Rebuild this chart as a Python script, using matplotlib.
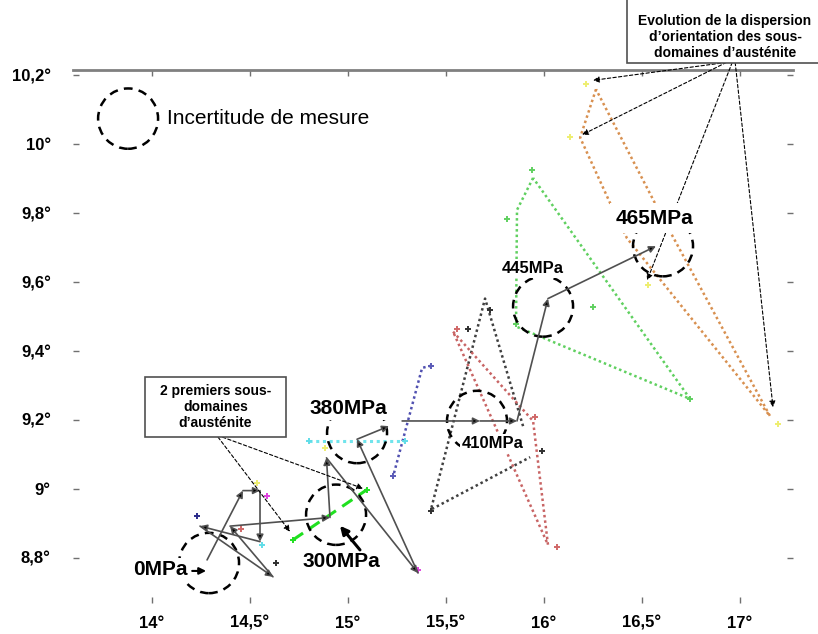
import matplotlib
matplotlib.use("Agg")
import matplotlib.pyplot as plt
from matplotlib.patches import Ellipse, Rectangle

plt.rcParams['font.family'] = ['Liberation Sans', 'DejaVu Sans']

# axes ticks
x_ticks = [14, 14.5, 15, 15.5, 16, 16.5, 17]
x_labels = ['14°', '14,5°', '15°', '15,5°', '16°', '16,5°', '17°']
y_ticks = [8.8, 9.0, 9.2, 9.4, 9.6, 9.8, 10.0, 10.2]
y_labels = ['8,8°', '9°', '9,2°', '9,4°', '9,6°', '9,8°', '10°', '10,2°']

# stress levels: circle centres and labels
stress_labels = ['0MPa', '300MPa', '380MPa', '410MPa', '445MPa', '465MPa']
circle_x = [14.291, 14.939, 15.046, 15.658, 15.995, 16.607]
circle_y = [8.785, 8.925, 9.162, 9.197, 9.529, 9.704]
label_x = [14.043, 14.964, 15.000, 15.740, 15.944, 16.561]
label_y = [8.765, 8.788, 9.234, 9.132, 9.640, 9.785]
label_size = [15, 15, 15, 12, 12, 15]
label_pad = [1.5, 1.5, 1.5, 1.5, 1.5, 4]

# trajectory of mean orientation (arrows)
traj_1 = [(14.281, 8.794), (14.464, 8.995), (14.551, 8.995), (14.551, 8.847),
          (14.245, 8.892), (14.617, 8.745), (14.398, 8.892), (14.908, 8.917),
          (14.890, 9.090), (15.357, 8.756), (15.046, 9.144), (15.209, 9.182)]
traj_2 = [(15.276, 9.197), (15.673, 9.197), (15.862, 9.197), (16.020, 9.552),
          (16.571, 9.704)]

# sous-domaines (dotted envelopes)
purple_x = [15.423, 15.378, 15.230]
purple_y = [9.357, 9.351, 9.036]
black_x = [15.893, 15.699, 15.423, 15.929]
black_y = [9.182, 9.552, 8.940, 9.092]
red_x = [15.536, 15.944, 16.020, 15.536]
red_y = [9.456, 9.197, 8.838, 9.456]
green_x = [15.944, 15.862, 15.857, 16.745, 15.944]
green_y = [9.902, 9.809, 9.471, 9.261, 9.902]
orange_x = [16.265, 16.184, 16.337, 16.423, 17.153, 16.592, 16.265]
orange_y = [10.159, 10.019, 9.829, 9.727, 9.211, 9.800, 10.159]
cyan_x = [14.801, 15.291]
cyan_y = [9.138, 9.138]
lime_x = [14.719, 15.097]
lime_y = [8.852, 8.998]

# markers
markers = {
    '#2a2a8a': ([14.230], [8.922]),
    '#5a5ab8': ([15.423, 15.230], [9.357, 9.036]),
    '#eeee70': ([14.536, 14.883, 16.214, 16.133, 16.531, 17.194],
                [9.016, 9.118, 10.173, 10.022, 9.590, 9.188]),
    '#e040e0': ([14.587, 15.357], [8.978, 8.765]),
    '#d06868': ([14.454, 15.556, 15.954, 16.066], [8.885, 9.465, 9.208, 8.832]),
    '#60dde8': ([14.561, 14.801, 15.291], [8.838, 9.138, 9.138]),
    '#303030': ([14.633, 15.612, 15.724, 15.423, 15.990],
                [8.785, 9.465, 9.520, 8.937, 9.109]),
    '#60d060': ([15.939, 15.811, 16.250, 15.857, 16.745],
                [9.925, 9.783, 9.529, 9.479, 9.261]),
    '#20e020': (lime_x, lime_y),
}

# annotation arrows
premiers_from = [(14.337, 9.150), (14.360, 9.150)]
premiers_to = [(14.704, 8.876), (15.077, 9.001)]
evol_from = [(16.930, 10.237), (16.930, 10.237), (16.960, 10.237), (16.975, 10.237)]
evol_to = [(16.250, 10.185), (16.194, 10.027), (16.526, 9.605), (17.168, 9.237)]

fig = plt.figure(figsize=(8.18, 6.34), dpi=100)
ax = fig.add_axes([73 / 818, 31 / 634, 720 / 818, 533 / 634])
ax.set_xlim(13.597, 17.27)
ax.set_ylim(8.669, 10.215)

for s in ['left', 'right', 'bottom']:
    ax.spines[s].set_visible(False)
ax.spines['top'].set_color('#808080')
ax.spines['top'].set_linewidth(2)
ax.set_xticks(x_ticks)
ax.set_xticklabels(x_labels, fontsize=12, fontweight='bold')
ax.set_yticks(y_ticks)
ax.set_yticklabels(y_labels, fontsize=12, fontweight='bold')
ax.tick_params(direction='in', length=4, width=1, color='#707070',
               top=True, right=True)
ax.tick_params(axis='y', pad=16)
ax.tick_params(axis='x', pad=9)

dot = (0, (1, 1.2))
ax.plot(purple_x, purple_y, color='#5050b0', ls=dot, lw=1.8)
ax.plot(black_x, black_y, color='#404040', ls=dot, lw=1.8)
ax.plot(red_x, red_y, color='#c86464', ls=dot, lw=1.8)
ax.plot(green_x, green_y, color='#60d060', ls=dot, lw=1.8)
ax.plot(orange_x, orange_y, color='#d89050', ls=dot, lw=1.8)
ax.plot(cyan_x, cyan_y, color='#70e4ec', ls=dot, lw=2.2)
ax.plot(lime_x, lime_y, color='#20e020', ls=(0, (4, 2.5)), lw=2.2)

for c, (mx, my) in markers.items():
    ax.plot(mx, my, ls='none', marker='+', ms=5, mew=1.4, color=c)

# dashed circles
for cx, cy in zip(circle_x, circle_y):
    ax.add_patch(Ellipse((cx, cy), 0.306, 0.175, fill=False, ec='black',
                         lw=1.8, ls=(0, (3.5, 2.5)), zorder=3))
ax.add_patch(Ellipse((13.878, 10.074), 0.306, 0.175, fill=False, ec='black',
                     lw=1.8, ls=(0, (3.5, 2.5)), zorder=3))
ax.text(14.077, 10.074, 'Incertitude de mesure', fontsize=15, va='center', ha='left')

arrow_kw = dict(arrowstyle='-|>', ec='#505050', fc='black', lw=1.2,
                mutation_scale=10, shrinkA=0, shrinkB=0)
for traj in (traj_1, traj_2):
    for p0, p1 in zip(traj[:-1], traj[1:]):
        ax.annotate('', xy=p1, xytext=p0, arrowprops=arrow_kw, zorder=4)

# stress labels
for t, lx, ly, fs, pd in zip(stress_labels, label_x, label_y, label_size, label_pad):
    ax.text(lx, ly, t, fontsize=fs, fontweight='bold', ha='center', va='center',
            zorder=5, bbox=dict(fc='white', ec='none', pad=pd))

ax.annotate('', xy=(14.276, 8.762), xytext=(14.205, 8.762), zorder=6,
            arrowprops=dict(arrowstyle='-|>', color='black', lw=1.5,
                            mutation_scale=10, shrinkA=0, shrinkB=0))
ax.annotate('', xy=(14.959, 8.893), xytext=(15.061, 8.823), zorder=6,
            arrowprops=dict(arrowstyle='-|>', color='black', lw=2.2,
                            mutation_scale=12, shrinkA=0, shrinkB=0))

# "2 premiers" box
ax.add_patch(Rectangle((13.964, 9.150), 0.720, 0.175, fc='white', ec='#505050',
                       lw=1.2, zorder=6))
ax.text(14.324, 9.2375, '2 premiers sous-\ndomaines\nd’austénite', fontsize=10,
        fontweight='bold', ha='center', va='center', linespacing=1.15, zorder=7)

dash_kw = dict(arrowstyle='-|>', color='black', lw=0.8, ls=(0, (3, 2)),
               mutation_scale=9, shrinkA=0, shrinkB=0)
for p0, p1 in zip(premiers_from, premiers_to):
    ax.annotate('', xy=p1, xytext=p0, arrowprops=dash_kw, zorder=4)
for p0, p1 in zip(evol_from, evol_to):
    ax.annotate('', xy=p1, xytext=p0, arrowprops=dash_kw, zorder=4,
                annotation_clip=False)

# "Evolution" box (top right, cut by the figure edge)
fig.add_artist(Rectangle((627 / 818, (634 - 63) / 634), 0.3, 0.2,
                         transform=fig.transFigure, fc='white', ec='#505050', lw=1.2))
fig.text(725 / 818, (634 - 37) / 634,
         'Evolution de la dispersion\nd’orientation des sous-\ndomaines d’austénite',
         fontsize=10, fontweight='bold', ha='center', va='center', linespacing=1.15)

fig.savefig('out.png', dpi=100)
